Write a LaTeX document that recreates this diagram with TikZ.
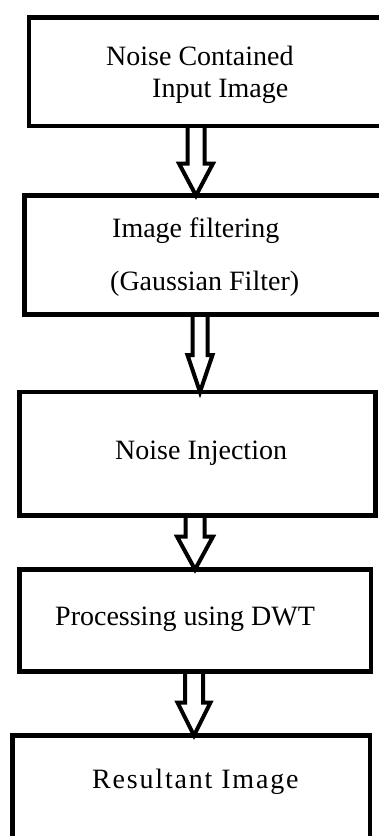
\documentclass[tikz,border=0pt]{standalone}
\usepackage{fontspec}
\setmainfont{Liberation Serif}
\usetikzlibrary{calc}

\tikzset{
  stagebox/.style={draw=black, line width=4.5pt, rectangle, inner sep=0pt, outer sep=0pt},
  stagetext/.style={anchor=base west, inner sep=0pt, font=\fontsize{28}{33}\selectfont},
  hollowarrow/.style={draw=black, line width=4pt, line join=miter},
}

% hollow block arrow: shaft from #1 down to tip at the height of #2;
% #3 shaft half width, #4 head half width, #5 head length
\newcommand\hollowdown[5]{%
  \draw[hollowarrow] let \p1=(#1), \p2=(#2) in
    (\x1-#3,\y1) -- (\x1-#3,\y2+#5) -- (\x1-#4,\y2+#5) -- (\x1,\y2)
    -- (\x1+#4,\y2+#5) -- (\x1+#3,\y2+#5) -- (\x1+#3,\y1);
}

\begin{document}
\begin{tikzpicture}[x=1pt,y=-1pt]
  \useasboundingbox (0,0) rectangle (379,836);
  \fill[white] (0,0) rectangle (379,836);
  \clip (0,0) rectangle (379,836);

  % stage boxes
  \node[stagebox, minimum width=354pt,   minimum height=108.5pt] (b1) at (206,71.75) {};
  \node[stagebox, minimum width=358.5pt, minimum height=119pt]   (b2) at (203.75,255) {};
  \node[stagebox, minimum width=356pt,   minimum height=123.5pt] (b3) at (197.5,453.75) {};
  \node[stagebox, minimum width=351.5pt, minimum height=102pt]   (b4) at (195.25,620.5) {};
  \node[stagebox, minimum width=357.5pt, minimum height=109.5pt] (b5) at (191.25,790.25) {};

  % stage texts
  \node[stagetext] (t1a) at (106,65)  {Noise Contained};
  \node[stagetext] (t1b) at (152,97)  {Input Image};
  \node[stagetext] (t2a) at (112,237) {Image filtering};
  \node[stagetext] (t2b) at (110,290) {(Gaussian Filter)};
  \node[stagetext] (t3)  at (115,459) {Noise Injection};
  \node[stagetext] (t4)  at (55,625)  {Processing using DWT};
  \node[stagetext] (t5)  at (92,788)  {\addfontfeatures{LetterSpace=6.5}Resultant Image};

  % connectors between stages
  \coordinate (a1s) at (b1.south -| 196,0);
  \coordinate (a2s) at (b2.south -| 200,0);
  \coordinate (a3s) at (b3.south -| 195,0);
  \coordinate (a4s) at (b4.south -| 194,0);
  \hollowdown{a1s}{b2.north}{8.5pt}{17pt}{32pt}
  \hollowdown{a2s}{b3.north}{7.5pt}{12.5pt}{37pt}
  \hollowdown{a3s}{b4.north}{9.5pt}{18pt}{33pt}
  \hollowdown{a4s}{b5.north}{9pt}{16.5pt}{33pt}
\end{tikzpicture}
\end{document}
